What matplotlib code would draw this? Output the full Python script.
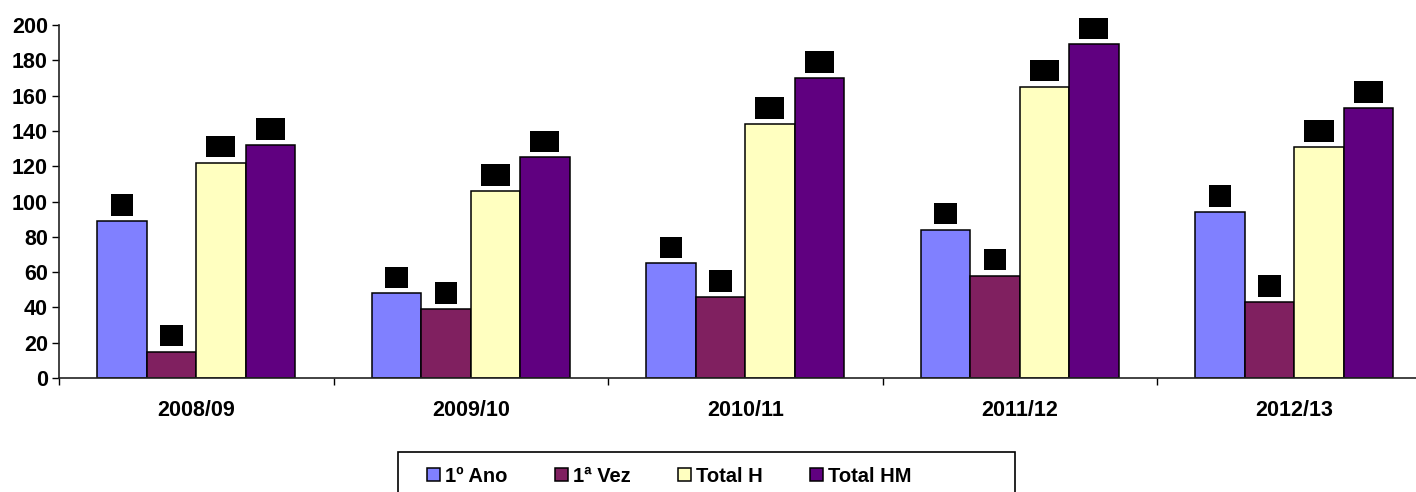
import numpy as np
from matplotlib import pyplot as plt
from matplotlib.patches import Rectangle

plt.rcParams['font.family'] = ['Liberation Sans', 'DejaVu Sans']
plt.rcParams['font.weight'] = 'bold'

years = ['2008/09', '2009/10', '2010/11', '2011/12', '2012/13']
series_names = ['1º Ano', '1ª Vez', 'Total H', 'Total HM']
ano1 = [89, 48, 65, 84, 94]
vez1 = [15, 39, 46, 58, 43]
total_h = [122, 106, 144, 165, 131]
total_hm = [132, 125, 170, 189, 153]
colors = ['#8080FF', '#802060', '#FFFFC0', '#600080']

W, H = 1416, 492
fig = plt.figure(figsize=(W / 100, H / 100), dpi=100)
# plot area runs slightly past the right edge, like the original
ax = fig.add_axes([59 / W, 1 - 378 / H, (1431.5 - 59) / W, (378 - 25) / H])

x = np.arange(len(years))
bw = 0.18
all_series = [ano1, vez1, total_h, total_hm]
for i, (vals, c, name) in enumerate(zip(all_series, colors, series_names)):
    pos = x + (i - 1.5) * bw
    ax.bar(pos, vals, bw, color=c, edgecolor='black', linewidth=1.1, label=name)
    # data labels: black boxes
    for p, v in zip(pos, vals):
        ax.annotate(str(v), (p, v), xytext=(0, 10), textcoords='offset pixels',
                    ha='center', va='bottom', fontsize=8.5, color='black',
                    bbox=dict(boxstyle='square,pad=0.4', fc='black', ec='none'))

ax.set_xlim(-0.5, len(years) - 0.5)
ax.set_ylim(0, 200)
ax.set_yticks(range(0, 201, 20))
ax.set_xticks(x)
ax.set_xticklabels(years)
ax.set_xticks(np.arange(-0.5, len(years), 1), minor=True)
ax.tick_params(axis='x', which='major', length=0, pad=16, labelsize=15.5)
ax.tick_params(axis='x', which='minor', length=5, width=1, direction='out')
ax.tick_params(axis='y', length=5, width=1, direction='out', pad=3, labelsize=15.5)

for s in ['top', 'right']:
    ax.spines[s].set_visible(False)
for s in ['left', 'bottom']:
    ax.spines[s].set_color('#222222')
    ax.spines[s].set_linewidth(1.2)

# legend box (wider on the right, like the original) drawn separately
fig.patches.append(Rectangle((398 / W, -0.05), (1015 - 398) / W, 0.05 + 1 - 452 / H,
                             transform=fig.transFigure, fill=False,
                             edgecolor='black', linewidth=1.2))
leg = fig.legend(loc='center left', bbox_to_anchor=(427 / W, 1 - 476 / H), ncol=4,
                 fontsize=14.5, frameon=False,
                 handlelength=0.65, handleheight=0.65, handletextpad=0.25,
                 columnspacing=2.35, borderpad=0, borderaxespad=0)

fig.savefig('out.png', dpi=100)
